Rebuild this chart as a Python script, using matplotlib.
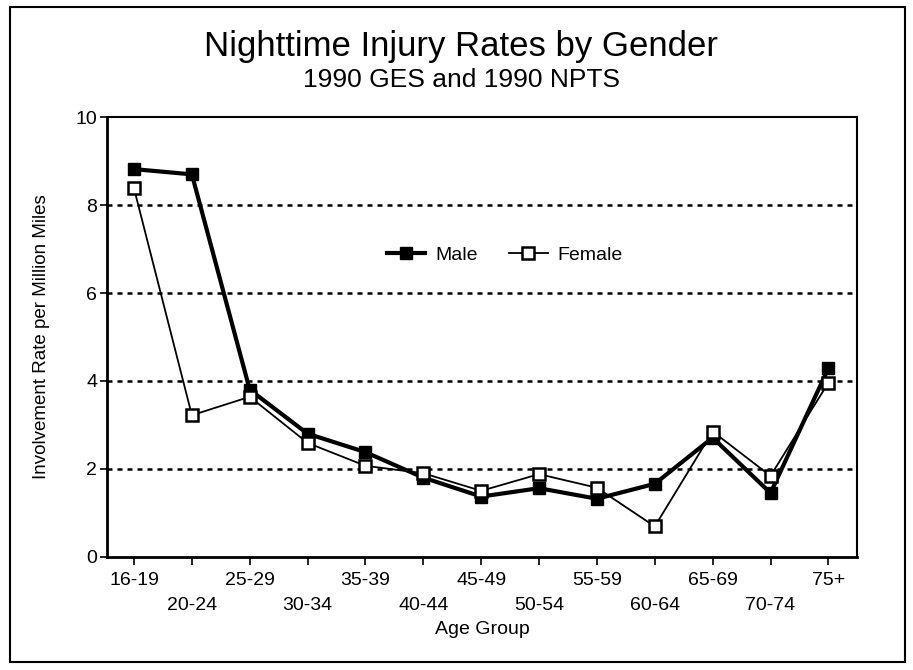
import matplotlib
matplotlib.use("Agg")
import matplotlib.pyplot as plt
from matplotlib.patches import Rectangle

plt.rcParams['font.family'] = ['Liberation Sans Narrow', 'Liberation Sans', 'DejaVu Sans']

# data
age_groups = ['16-19', '20-24', '25-29', '30-34', '35-39', '40-44', '45-49',
              '50-54', '55-59', '60-64', '65-69', '70-74', '75+']
male = [8.82, 8.70, 3.80, 2.80, 2.38, 1.80, 1.37, 1.56, 1.32, 1.66, 2.71, 1.45, 4.29]
female = [8.38, 3.22, 3.64, 2.59, 2.07, 1.90, 1.50, 1.88, 1.57, 0.69, 2.85, 1.84, 3.96]

fig = plt.figure(figsize=(9.13, 6.70), dpi=100)
ax = fig.add_axes([0.117, 0.169, 0.822, 0.656])

# border around the whole figure
fig.patches.append(Rectangle((0.011, 0.012), 0.98, 0.978, transform=fig.transFigure,
                             fill=False, edgecolor='black', linewidth=1.5))

x = range(len(age_groups))
ax.plot(x, male, color='black', linewidth=3, marker='s', markersize=9,
        markerfacecolor='black', markeredgecolor='black', label='Male', zorder=3)
ax.plot(x, female, color='black', linewidth=1.3, marker='s', markersize=9,
        markerfacecolor='white', markeredgecolor='black', markeredgewidth=1.8,
        label='Female', zorder=4)

for yv in [2, 4, 6, 8]:
    ax.axhline(yv, color='black', linestyle=(0, (2, 2)), linewidth=1.8, zorder=1)

ax.set_xlim(-0.47, 12.5)
ax.set_ylim(0, 10)
ax.set_yticks([0, 2, 4, 6, 8, 10])
ax.set_xticks(list(x))
labels = [lab if i % 2 == 0 else '\n' + lab for i, lab in enumerate(age_groups)]
ax.set_xticklabels(labels, fontsize=14, linespacing=1.65)
ax.tick_params(axis='y', labelsize=14, length=5, width=1.2, direction='out', pad=2)
ax.tick_params(axis='x', length=6, width=1.2, direction='out', pad=5)

for side in ['left', 'bottom']:
    ax.spines[side].set_linewidth(2)
for side in ['top', 'right']:
    ax.spines[side].set_linewidth(1.5)

ax.set_ylabel('Involvement Rate per Million Miles', fontsize=13.5, labelpad=18)
ax.set_xlabel('Age Group', fontsize=14, labelpad=5)

ax.legend(loc='center', bbox_to_anchor=(0.53, 0.686), ncol=2, frameon=False,
          fontsize=14, handlelength=2.0, columnspacing=1.6, handletextpad=0.5)

fig.text(0.505, 0.930, 'Nighttime Injury Rates by Gender', ha='center', va='center', fontsize=25)
fig.text(0.505, 0.881, '1990 GES and 1990 NPTS', ha='center', va='center', fontsize=19)

fig.savefig('out.png', dpi=100)
